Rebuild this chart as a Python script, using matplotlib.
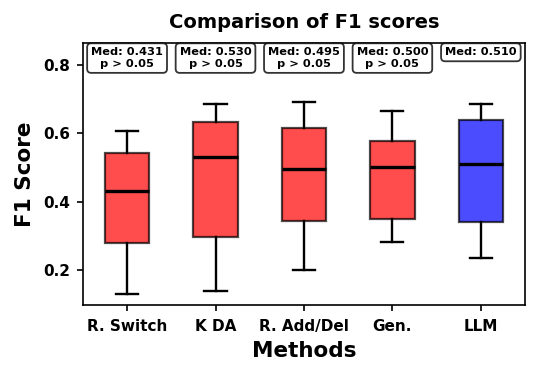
import matplotlib
matplotlib.use("Agg")
import matplotlib.pyplot as plt
import matplotlib.transforms as mtransforms

methods = ["R. Switch", "K DA", "R. Add/Del", "Gen.", "LLM"]
whislo = [0.131, 0.139, 0.200, 0.281, 0.235]
q1 = [0.280, 0.297, 0.342, 0.348, 0.339]
med = [0.431, 0.530, 0.495, 0.500, 0.510]
q3 = [0.541, 0.632, 0.616, 0.576, 0.639]
whishi = [0.606, 0.685, 0.691, 0.664, 0.684]
med_labels = ["0.431", "0.530", "0.495", "0.500", "0.510"]
p_labels = ["p > 0.05", "p > 0.05", "p > 0.05", "p > 0.05", None]
colors = ["red", "red", "red", "red", "blue"]

fig = plt.figure(figsize=(5.38, 3.66), dpi=100)
ax = fig.add_axes([0.154, 0.167, 0.822, 0.716])

stats = []
for i, m in enumerate(methods):
    stats.append(dict(label=m, whislo=whislo[i], q1=q1[i], med=med[i],
                      q3=q3[i], whishi=whishi[i], fliers=[]))

bp = ax.bxp(stats, positions=range(1, len(methods) + 1), widths=0.5,
            patch_artist=True, showfliers=False,
            boxprops=dict(linewidth=1.6),
            medianprops=dict(color="black", linewidth=2.4),
            whiskerprops=dict(color="black", linewidth=1.7),
            capprops=dict(color="black", linewidth=1.7))
for patch, c in zip(bp["boxes"], colors):
    patch.set_facecolor(c)
    patch.set_edgecolor("black")
    patch.set_alpha(0.7)

ax.set_xlim(0.5, 5.5)
ax.set_ylim(0.098, 0.864)
ax.set_yticks([0.2, 0.4, 0.6, 0.8])
ax.set_yticklabels(["0.2", "0.4", "0.6", "0.8"])
for lab in ax.get_xticklabels() + ax.get_yticklabels():
    lab.set_fontweight("bold")
    lab.set_fontsize(11)
ax.tick_params(axis="both", width=1.2, length=4, pad=5)
ax.tick_params(axis="x", pad=6)
for s in ax.spines.values():
    s.set_linewidth(1.2)

ax.set_title("Comparison of F1 scores", fontsize=14, fontweight="bold", pad=11)
ax.set_xlabel("Methods", fontsize=15.5, fontweight="bold", labelpad=5)
ax.set_ylabel("F1 Score", fontsize=15.5, fontweight="bold", labelpad=6)

trans = mtransforms.blended_transform_factory(ax.transData, ax.transAxes)
for i in range(len(methods)):
    txt = "Med: " + med_labels[i]
    if p_labels[i]:
        txt += "\n" + p_labels[i]
    ax.text(i + 1, 0.983, txt, transform=trans, ha="center", va="top",
            fontsize=8.2, fontweight="bold", linespacing=1.2,
            bbox=dict(boxstyle="round,pad=0.35", fc="white", ec="black", lw=1.3, alpha=0.8))

fig.savefig("out.png", dpi=100)
